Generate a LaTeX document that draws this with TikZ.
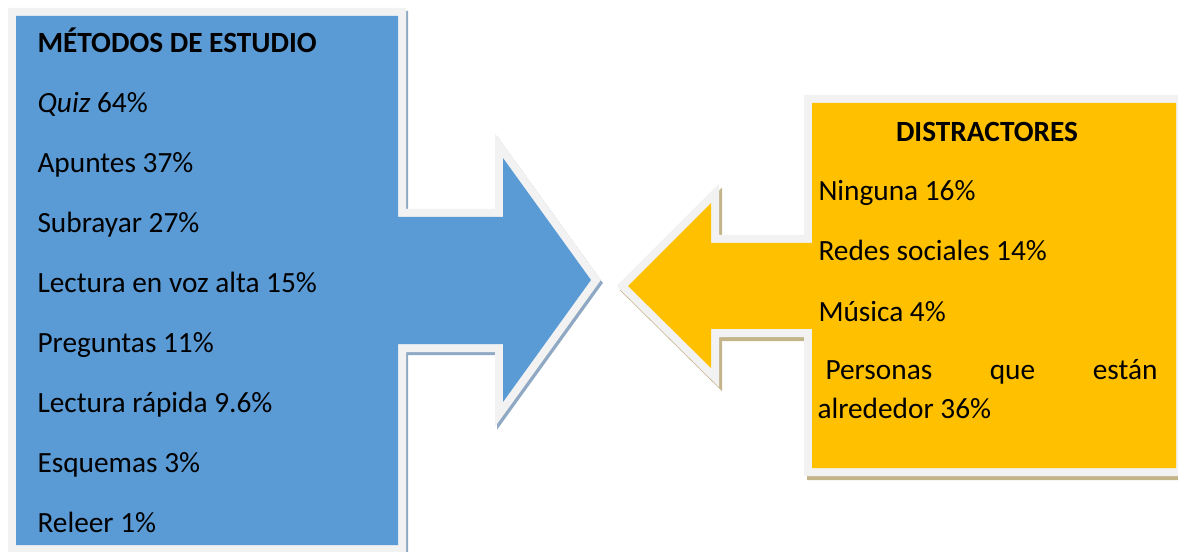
\documentclass[tikz,border=0pt]{standalone}
\usepackage{fontspec}
\setmainfont{Carlito}

\definecolor{calloutblue}{RGB}{91,155,213}
\definecolor{calloutgold}{RGB}{255,192,0}
\definecolor{calloutrim}{RGB}{242,242,242}
\definecolor{blueshadow}{RGB}{143,169,196}
\definecolor{goldshadow}{RGB}{196,180,138}

\tikzset{every picture/.style={line width=0.75pt}}
\tikzset{
  rim/.style={draw=calloutrim, line width=12pt, line join=miter},
  rimshadow/.style={shift={(2,3)}, line width=12pt, line join=miter},
  entry/.style={anchor=base west, inner sep=0.75pt, font=\fontsize{22}{29}\selectfont}
}

\begin{document}
\begin{tikzpicture}[x=0.75pt,y=0.75pt,yscale=-1,xscale=1]
\useasboundingbox (0,0) rectangle (1178,552);

%Shape: Right Arrow Callout [shadow]
\draw [rimshadow, draw=blueshadow, fill=blueshadow] (16,16) -- (398,16) -- (398,217) -- (503,217) -- (503,158) -- (591,280) -- (503,402) -- (503,344) -- (398,344) -- (398,545) -- (16,545) -- cycle ;
%Shape: Right Arrow Callout [rim]
\draw [rim] (16,16) -- (398,16) -- (398,217) -- (503,217) -- (503,158) -- (591,280) -- (503,402) -- (503,344) -- (398,344) -- (398,545) -- (16,545) -- cycle ;
%Shape: Right Arrow Callout
\fill [calloutblue] (16,16) -- (398,16) -- (398,217) -- (503,217) -- (503,158) -- (591,280) -- (503,402) -- (503,344) -- (398,344) -- (398,545) -- (16,545) -- cycle ;

%Shape: Left Arrow Callout [shadow]
\draw [rimshadow, shift={(1,1)}, draw=goldshadow, fill=goldshadow] (812,103) -- (1176,103) -- (1176,468) -- (812,468) -- (812,329) -- (711,329) -- (711,368) -- (628,286) -- (711,203) -- (711,243) -- (812,243) -- cycle ;
%Shape: Left Arrow Callout [rim]
\draw [rim] (812,103) -- (1176,103) -- (1176,468) -- (812,468) -- (812,329) -- (711,329) -- (711,368) -- (628,286) -- (711,203) -- (711,243) -- (812,243) -- cycle ;
%Shape: Left Arrow Callout
\fill [calloutgold] (812,103) -- (1176,103) -- (1176,468) -- (812,468) -- (812,329) -- (711,329) -- (711,368) -- (628,286) -- (711,203) -- (711,243) -- (812,243) -- cycle ;

% Text Node
\draw (36,53) node (metodos) [entry] {\bfseries MÉTODOS DE ESTUDIO};
% Text Node
\draw (36,112.5) node (quiz) [entry] {\textit{Quiz} 64\%};
% Text Node
\draw (36,172.5) node (apuntes) [entry] {Apuntes 37\%};
% Text Node
\draw (36,232.5) node (subrayar) [entry] {Subrayar 27\%};
% Text Node
\draw (36,292.5) node (vozalta) [entry] {Lectura en voz alta 15\%};
% Text Node
\draw (36,352.5) node (preguntas) [entry] {Preguntas 11\%};
% Text Node
\draw (36,412.5) node (rapida) [entry] {Lectura rápida 9.6\%};
% Text Node
\draw (36,472.5) node (esquemas) [entry] {Esquemas 3\%};
% Text Node
\draw (36,532.5) node (releer) [entry] {Releer 1\%};

% Text Node
\draw (987,142) node (distractores) [entry, anchor=base] {\bfseries DISTRACTORES};
% Text Node
\draw (817,201) node (ninguna) [entry] {Ninguna 16\%};
% Text Node
\draw (817,261) node (redes) [entry] {Redes sociales 14\%};
% Text Node
\draw (817,321) node (musica) [entry] {Música 4\%};
% Text Node
\draw (817,359) node (personas) [entry, anchor=north west, inner sep=0pt, text width=255pt, align=justify] {\hspace*{6pt}Personas\hfill que\hfill están\\alrededor 36\%};
\end{tikzpicture}
\end{document}
